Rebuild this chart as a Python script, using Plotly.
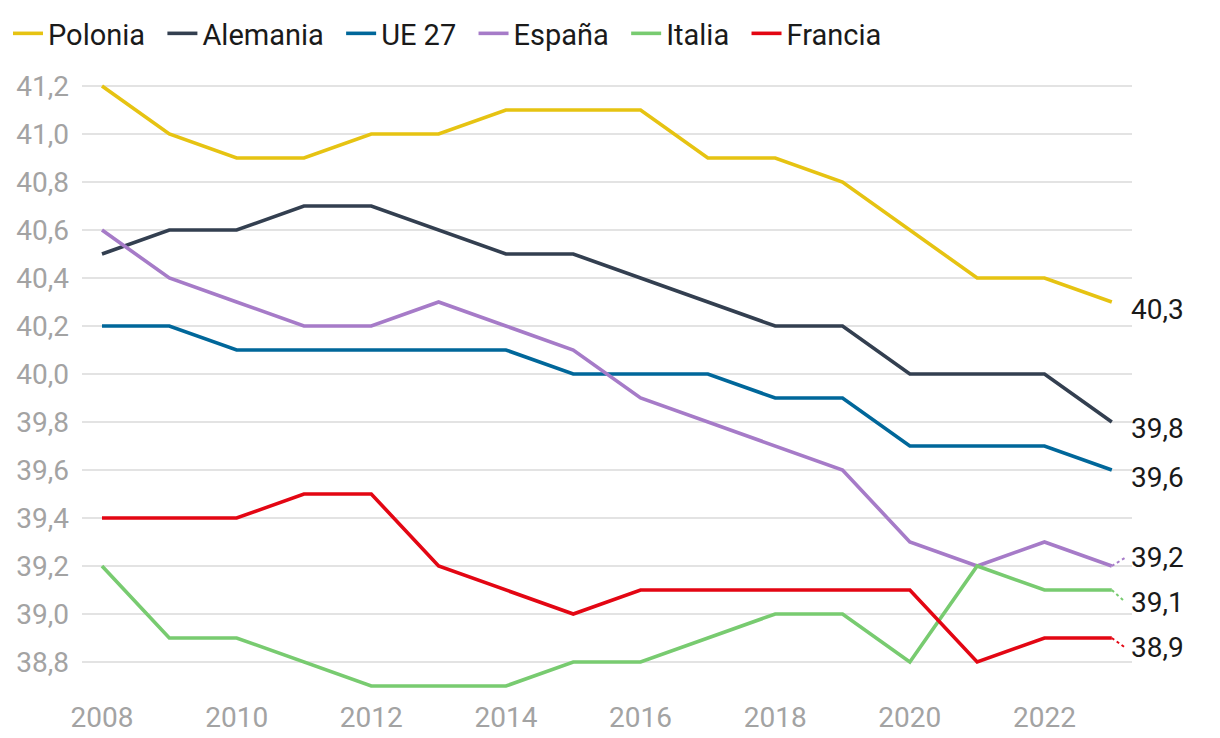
import plotly.graph_objects as go

years = list(range(2008, 2024))
series_names = ["Polonia", "Alemania", "UE 27", "España", "Italia", "Francia"]
polonia = [41.2, 41.0, 40.9, 40.9, 41.0, 41.0, 41.1, 41.1, 41.1, 40.9, 40.9, 40.8, 40.6, 40.4, 40.4, 40.3]
alemania = [40.5, 40.6, 40.6, 40.7, 40.7, 40.6, 40.5, 40.5, 40.4, 40.3, 40.2, 40.2, 40.0, 40.0, 40.0, 39.8]
ue27 = [40.2, 40.2, 40.1, 40.1, 40.1, 40.1, 40.1, 40.0, 40.0, 40.0, 39.9, 39.9, 39.7, 39.7, 39.7, 39.6]
espana = [40.6, 40.4, 40.3, 40.2, 40.2, 40.3, 40.2, 40.1, 39.9, 39.8, 39.7, 39.6, 39.3, 39.2, 39.3, 39.2]
italia = [39.2, 38.9, 38.9, 38.8, 38.7, 38.7, 38.7, 38.8, 38.8, 38.9, 39.0, 39.0, 38.8, 39.2, 39.1, 39.1]
francia = [39.4, 39.4, 39.4, 39.5, 39.5, 39.2, 39.1, 39.0, 39.1, 39.1, 39.1, 39.1, 39.1, 38.8, 38.9, 38.9]
colors = ["#E6C312", "#333F50", "#00679A", "#A67BC8", "#78CB70", "#E30613"]
# label positions (y, in data units) for end labels, spread to avoid overlap
label_y = [40.27, 39.775, 39.57, 39.235, 39.05, 38.86]
leader = [False, False, False, True, True, True]

y_ticks = [38.8, 39.0, 39.2, 39.4, 39.6, 39.8, 40.0, 40.2, 40.4, 40.6, 40.8, 41.0, 41.2]
y_ticktext = [f"{v:.1f}".replace(".", ",") for v in y_ticks]
x_ticks = [2008, 2010, 2012, 2014, 2016, 2018, 2020, 2022]

FONT = "Roboto, Arial, sans-serif"
PAD = "\u2005\u2006"  # extra spacing after legend entries

data = [polonia, alemania, ue27, espana, italia, francia]
fig = go.Figure()
for name, vals, col in zip(series_names, data, colors):
    fig.add_trace(go.Scatter(x=years, y=vals, mode="lines", name=name + PAD,
                             line=dict(color=col, width=3.6)))

for vals, col, ly, has_leader in zip(data, colors, label_y, leader):
    if has_leader:
        fig.add_trace(go.Scatter(x=[years[-1], years[-1] + 0.2], y=[vals[-1], ly],
                                 mode="lines", showlegend=False, hoverinfo="skip",
                                 line=dict(color=col, width=2, dash="dot")))
    fig.add_annotation(x=1.0, xref="paper", y=ly, yref="y",
                       text=f"{vals[-1]:.1f}".replace(".", ","),
                       showarrow=False, xanchor="left", yanchor="middle", xshift=-3,
                       font=dict(family=FONT, size=28, color="#1a1a1a"))

fig.update_layout(
    width=1220, height=738,
    paper_bgcolor="white", plot_bgcolor="white",
    margin=dict(l=74, r=96, t=54, b=48),
    font=dict(family=FONT),
    showlegend=True,
    legend=dict(orientation="h", x=0.0, xref="container", y=1.0, yref="container",
                xanchor="left", yanchor="top",
                font=dict(family=FONT, size=29, color="#1a1a1a"),
                itemwidth=30, tracegroupgap=0),
)
fig.update_xaxes(range=[2007.703, 2023.30], tickvals=x_ticks, showgrid=False,
                 zeroline=False, showline=False, ticks="", automargin=False,
                 tickfont=dict(family=FONT, size=28, color="#A3A3A3"))
fig.update_yaxes(range=[38.65, 41.3], tickvals=y_ticks, ticktext=y_ticktext,
                 showgrid=True, gridcolor="#E3E3E3", gridwidth=2,
                 zeroline=False, showline=False, ticks="", automargin=False,
                 ticklabelstandoff=12,
                 tickfont=dict(family=FONT, size=28, color="#A3A3A3"))

fig.write_html("out.html")
